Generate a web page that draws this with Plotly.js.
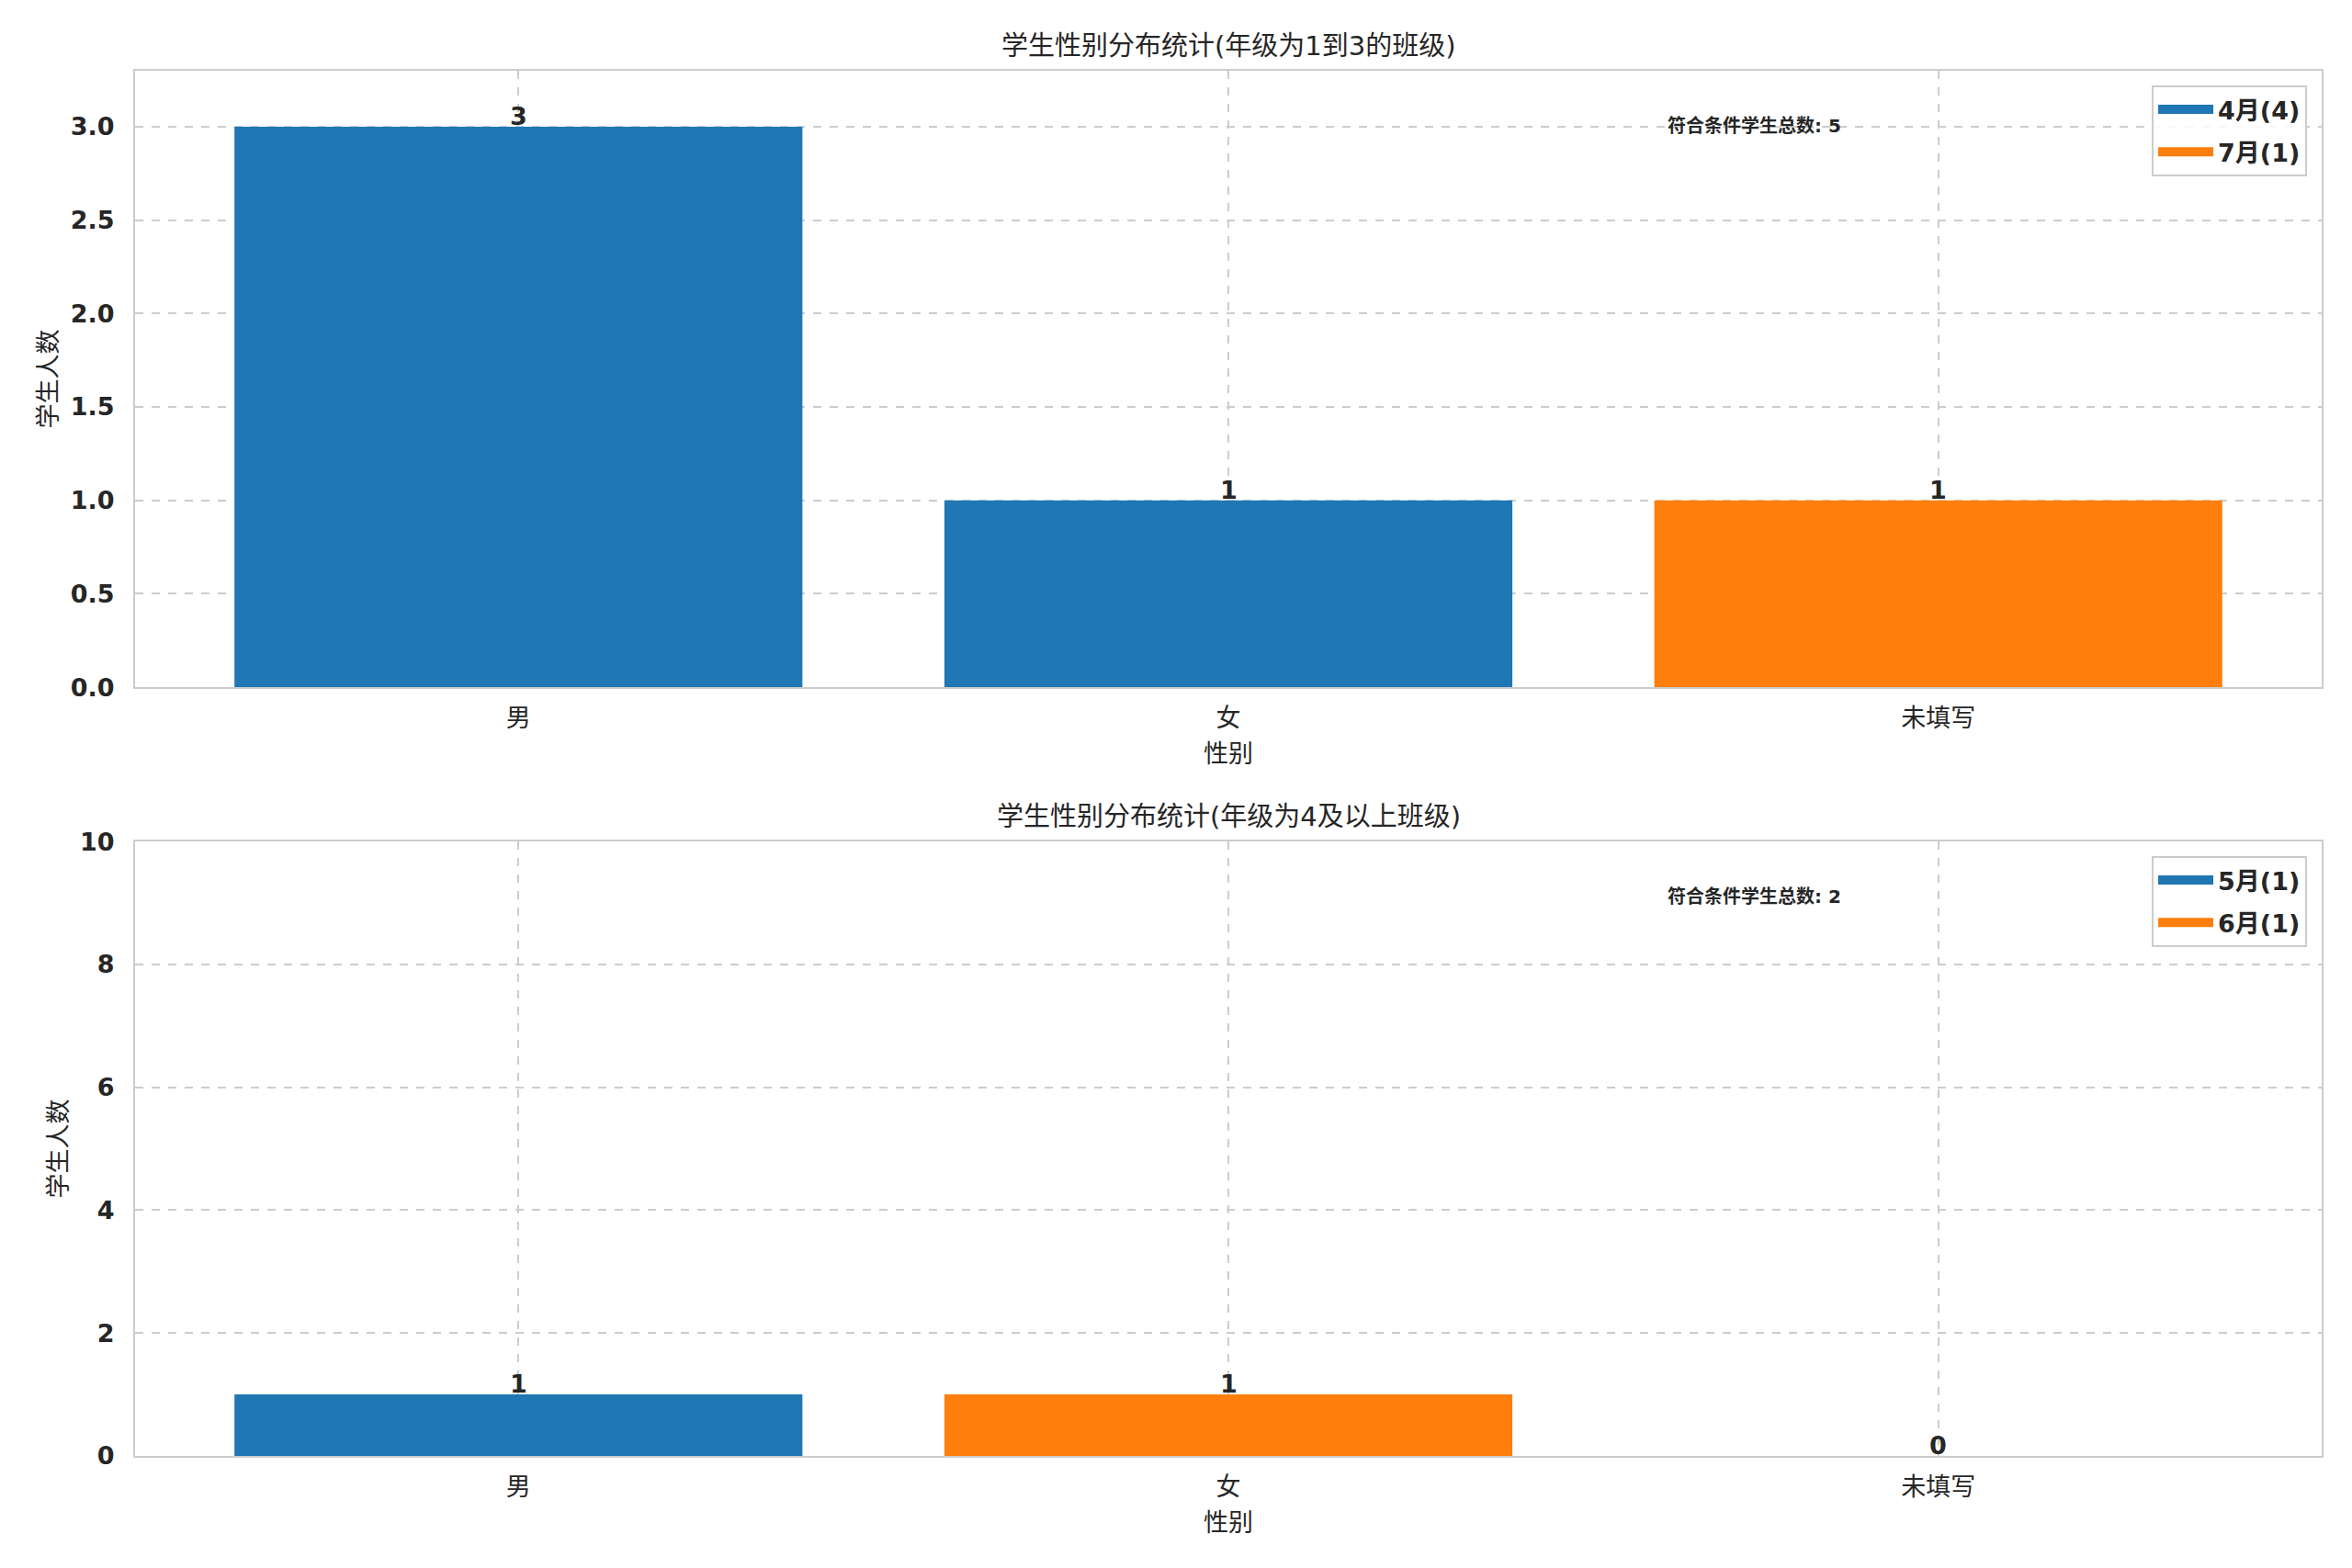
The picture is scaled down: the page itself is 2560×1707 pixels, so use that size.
<!DOCTYPE html>
<html>
<head>
<meta charset="utf-8">
<script src="https://cdn.plot.ly/plotly-3.0.1.min.js"></script>
<style>html,body{margin:0;padding:0;background:#fff;}#chart{width:2560px;height:1707px;}</style>
</head>
<body>
<div id="chart"></div>
<script>
// ---- data ----
const categories = ['男', '女', '未填写'];
const topTitle = '学生性别分布统计(年级为1到3的班级)';
const bottomTitle = '学生性别分布统计(年级为4及以上班级)';
const xLabel = '性别';
const yLabel = '学生人数';
const topSeriesNames = ['4月(4)', '7月(1)'];
const topSeriesA = [3, 1, null];
const topSeriesB = [null, null, 1];
const bottomSeriesNames = ['5月(1)', '6月(1)'];
const bottomSeriesA = [1, null, null];
const bottomSeriesB = [null, 1, null];
const bottomEmpty = [null, null, 0];
const totalLabel = '符合条件学生总数';
const topTotal = 5;
const bottomTotal = 2;
const topYTicks = [0, 0.5, 1.0, 1.5, 2.0, 2.5, 3.0];
const bottomYTicks = [0, 2, 4, 6, 8, 10];

// ---- styles ----
const FONT = 'DejaVu Sans, "Noto Sans CJK SC", sans-serif';
const TXT = '#262626';
const BLUE = '#1f77b4';
const ORANGE = '#ff7f0e';
const GRID = '#cccccc';

function barTrace(y, name, color, xa, ya, group) {
  return {
    type: 'bar', x: categories, y: y, name: name,
    marker: {color: color, line: {width: 0}},
    width: 0.8, xaxis: xa, yaxis: ya,
    showlegend: false, legendgroup: group,
    hoverinfo: 'x+y'
  };
}
// legend-only entries drawn as wide patches
function legendEntry(name, color, xa, ya, legend, group) {
  return {
    type: 'scatter', mode: 'lines', x: [null], y: [null], name: name,
    line: {color: color, width: 17}, xaxis: xa, yaxis: ya,
    legend: legend, legendgroup: group, showlegend: true, hoverinfo: 'skip'
  };
}

const traces = [
  barTrace(topSeriesA, topSeriesNames[0], BLUE, 'x', 'y', 'ta'),
  barTrace(topSeriesB, topSeriesNames[1], ORANGE, 'x', 'y', 'tb'),
  barTrace(bottomSeriesA, bottomSeriesNames[0], BLUE, 'x2', 'y2', 'ba'),
  barTrace(bottomSeriesB, bottomSeriesNames[1], ORANGE, 'x2', 'y2', 'bb'),
  barTrace(bottomEmpty, '', BLUE, 'x2', 'y2', 'bc'),
  legendEntry(topSeriesNames[0], BLUE, 'x', 'y', 'legend', 'ta'),
  legendEntry(topSeriesNames[1], ORANGE, 'x', 'y', 'legend', 'tb'),
  legendEntry(bottomSeriesNames[0], BLUE, 'x2', 'y2', 'legend2', 'ba'),
  legendEntry(bottomSeriesNames[1], ORANGE, 'x2', 'y2', 'legend2', 'bb')
];

// value labels on top of bars, placed through the axes
function valueLabels(seriesList, xa, ya) {
  const out = [];
  seriesList.forEach(s => s.forEach((v, i) => {
    if (v === null) return;
    out.push({
      x: categories[i], y: v, xref: xa, yref: ya, text: String(v),
      xanchor: 'center', yanchor: 'bottom', yshift: -6, showarrow: false,
      font: {family: FONT, size: 27, color: TXT, weight: 'bold'}
    });
  }));
  return out;
}

function xAxis(domainAnchor) {
  return {
    type: 'category', range: [-0.54, 2.54], anchor: domainAnchor,
    showgrid: true, gridcolor: GRID, griddash: 'dash', gridwidth: 2,
    showline: true, linecolor: GRID, linewidth: 2, mirror: true,
    ticks: '', ticklabelstandoff: 9,
    tickfont: {family: FONT, size: 27, color: TXT},
    title: {text: xLabel, font: {family: FONT, size: 27, color: TXT}, standoff: 15},
    zeroline: false, fixedrange: true
  };
}
function yAxis(domain, range, tickvals, fmt, anchor) {
  return {
    domain: domain, range: range, anchor: anchor,
    tickvals: tickvals, tickformat: fmt,
    showgrid: true, gridcolor: GRID, griddash: 'dash', gridwidth: 2,
    showline: true, linecolor: GRID, linewidth: 2, mirror: true,
    ticks: '', ticklabelstandoff: 15,
    tickfont: {family: FONT, size: 27, color: TXT, weight: 'bold'},
    title: {text: yLabel, font: {family: FONT, size: 27, color: TXT}, standoff: 6},
    zeroline: false, fixedrange: true
  };
}

function legendBox(y) {
  return {
    x: 0.9933, xanchor: 'right', y: y, yanchor: 'top',
    xref: 'paper', yref: 'paper',
    bgcolor: 'rgba(255,255,255,0.85)', bordercolor: '#cccccc', borderwidth: 2,
    font: {family: FONT, size: 27, color: TXT, weight: 'bold'},
    traceorder: 'grouped', tracegroupgap: 8, itemwidth: 60
  };
}

const layout = {
  width: 2560, height: 1707,
  paper_bgcolor: '#ffffff', plot_bgcolor: '#ffffff',
  margin: {l: 147, r: 33, t: 77, b: 122},
  barmode: 'overlay', showlegend: true,
  xaxis: xAxis('y'),
  yaxis: yAxis([0.555, 1], [0, 3.3], topYTicks, '.1f', 'x'),
  xaxis2: xAxis('y2'),
  yaxis2: yAxis([0, 0.4436], [0, 10], bottomYTicks, 'd', 'x2'),
  legend: legendBox(0.9894),
  legend2: legendBox(0.433),
  annotations: [
    {text: topTitle, xref: 'x domain', yref: 'y domain', x: 0.5, y: 1, xanchor: 'center', yanchor: 'bottom',
     yshift: 8, showarrow: false, font: {family: FONT, size: 29, color: TXT}},
    {text: bottomTitle, xref: 'x2 domain', yref: 'y2 domain', x: 0.5, y: 1, xanchor: 'center', yanchor: 'bottom',
     yshift: 8, showarrow: false, font: {family: FONT, size: 29, color: TXT}},
    {text: totalLabel + ': ' + topTotal, xref: 'x domain', yref: 'y domain', x: 0.7, y: 0.91,
     xanchor: 'left', yanchor: 'middle', showarrow: false, font: {family: FONT, size: 20, color: TXT, weight: 'bold'}},
    {text: totalLabel + ': ' + bottomTotal, xref: 'x2 domain', yref: 'y2 domain', x: 0.7, y: 0.91,
     xanchor: 'left', yanchor: 'middle', showarrow: false, font: {family: FONT, size: 20, color: TXT, weight: 'bold'}}
  ].concat(valueLabels([topSeriesA, topSeriesB], 'x', 'y'))
   .concat(valueLabels([bottomSeriesA, bottomSeriesB, bottomEmpty], 'x2', 'y2'))
};

Plotly.newPlot('chart', traces, layout, {displayModeBar: false, staticPlot: true});
</script>
</body>
</html>
